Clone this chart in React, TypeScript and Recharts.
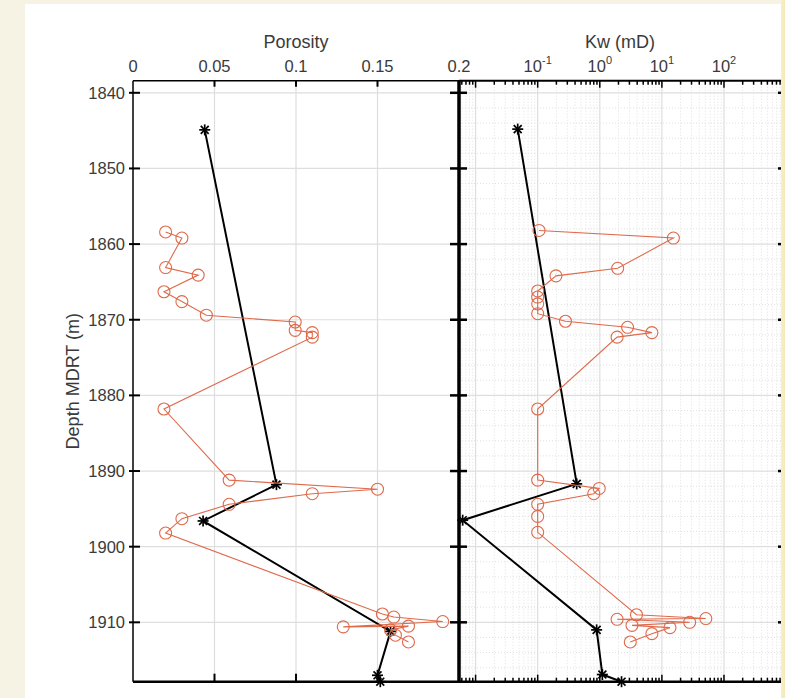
import React from 'react';
import { ScatterChart, Scatter, XAxis, YAxis, ReferenceLine } from 'recharts';

// ---------------- data ----------------
const porosityDepth = [1858.4, 1859.2, 1863.1, 1864.1, 1866.3, 1867.6, 1869.4, 1870.3, 1871.4, 1871.7, 1872.3, 1881.8, 1891.2, 1892.4, 1893.0, 1894.4, 1896.3, 1898.2, 1908.9, 1909.3, 1909.9, 1910.6, 1910.5, 1911.0, 1911.7, 1912.6];
const porosityValues = [0.020, 0.030, 0.020, 0.040, 0.019, 0.030, 0.045, 0.0995, 0.0995, 0.110, 0.110, 0.019, 0.059, 0.150, 0.110, 0.059, 0.030, 0.020, 0.153, 0.160, 0.190, 0.129, 0.169, 0.158, 0.161, 0.169];
const porosityModelDepth = [1844.9, 1891.8, 1896.6, 1911.2, 1917.0, 1917.85];
const porosityModelValues = [0.044, 0.088, 0.043, 0.158, 0.150, 0.1517];

const kwDepth = [1858.2, 1859.2, 1863.2, 1864.2, 1866.2, 1867.0, 1867.9, 1869.2, 1870.2, 1871.0, 1871.7, 1872.3, 1881.8, 1891.2, 1892.3, 1893.0, 1894.4, 1896.0, 1898.1, 1909.0, 1909.5, 1909.6, 1910.0, 1910.4, 1910.7, 1911.5, 1912.6];
const kwValues = [0.105, 15.3, 1.94, 0.197, 0.1, 0.1, 0.1, 0.1, 0.28, 2.8, 6.9, 1.9, 0.1, 0.1, 0.98, 0.8, 0.1, 0.1, 0.1, 3.9, 51, 1.9, 28, 3.3, 13.5, 6.9, 3.1];
const kwModelDepth = [1844.8, 1891.7, 1896.5, 1911.0, 1916.9, 1917.85];
const kwModelValues = [0.0477, 0.425, 0.0062, 0.89, 1.1, 2.24];

const porosityTicks = [0, 0.05, 0.1, 0.15, 0.2];
const depthTicks = [1840, 1850, 1860, 1870, 1880, 1890, 1900, 1910];
const kwDecades = [-3, -2, -1, 0, 1, 2];
const kwLabelledDecades = [-1, 0, 1, 2];
const kwMultipliers = [1, 2, 3, 4, 5, 6, 7, 8, 9];
const depthMinorStep = 2;

// ---------------- layout ----------------
const W = 785;
const H = 698;
const TOP = 80.7;
const BOTTOM = 681.7;
const L1 = 133;
const R1 = 459;
const R2 = 781;
const XH = 30;
const DEPTH_DOMAIN: [number, number] = [1838.4, 1917.85];
const POR_DOMAIN: [number, number] = [0, 0.2];
const KW_DOMAIN: [number, number] = [-2.267, 2.918];

const ORANGE = '#de6a4b';
const FONT = '"Liberation Sans", Arial, Helvetica, sans-serif';
const TEXT = '#3a3a3a';
const GRID = '#dedede';
const MINOR = '#e0e0e0';
const TICK_FS = 16.5;

// ---------------- derived tables ----------------
const porosityData = porosityDepth.map((d, i) => ({ x: porosityValues[i], y: d }));
const porosityModelData = porosityModelDepth.map((d, i) => ({ x: porosityModelValues[i], y: d }));
const kwData = kwDepth.map((d, i) => ({ x: Math.log10(kwValues[i]), y: d }));
const kwModelData = kwModelDepth.map((d, i) => ({ x: Math.log10(kwModelValues[i]), y: d }));

const kwTicks = kwDecades
  .flatMap((n) => kwMultipliers.map((k) => n + Math.log10(k)))
  .filter((v) => v >= KW_DOMAIN[0] && v <= KW_DOMAIN[1]);
const isMajor = (v: number) => Math.abs(v - Math.round(v)) < 1e-9;
const kwMajor = kwTicks.filter(isMajor);
const kwMinor = kwTicks.filter((v) => !isMajor(v));

const depthMinor: number[] = [];
for (let d = depthTicks[0] - 10; d <= DEPTH_DOMAIN[1]; d += depthMinorStep) {
  if (d >= DEPTH_DOMAIN[0] && d % 10 !== 0) depthMinor.push(d);
}

// ---------------- shapes ----------------
const Circle = (p: any) => (
  <circle cx={p.cx} cy={p.cy} r={6} fill="none" stroke={ORANGE} strokeWidth={1.1} />
);

const Star = (p: any) => {
  const r = 5.5;
  const d = r * 0.72;
  const { cx, cy } = p;
  return (
    <g stroke="#000" strokeWidth={1.7}>
      <line x1={cx - r} y1={cy} x2={cx + r} y2={cy} />
      <line x1={cx} y1={cy - r} x2={cx} y2={cy + r} />
      <line x1={cx - d} y1={cy - d} x2={cx + d} y2={cy + d} />
      <line x1={cx - d} y1={cy + d} x2={cx + d} y2={cy - d} />
    </g>
  );
};

// ---------------- ticks ----------------
const PorTick = (p: any) => {
  const { x, payload } = p;
  const v = payload.value;
  const inner = v > POR_DOMAIN[0] + 1e-9 && v < POR_DOMAIN[1] - 1e-9;
  return (
    <g>
      {inner && <line x1={x} x2={x} y1={TOP} y2={TOP + 6} stroke="#000" strokeWidth={2} />}
      {inner && <line x1={x} x2={x} y1={BOTTOM - 8} y2={BOTTOM} stroke="#000" strokeWidth={2} />}
      <text x={x} y={TOP - 9} textAnchor="middle" fontSize={TICK_FS} fontFamily={FONT} fill={TEXT}>
        {String(v)}
      </text>
    </g>
  );
};

const DepthTickLeft = (p: any) => {
  const { x, y, payload } = p;
  return (
    <g>
      <line x1={x - 4} x2={x + 7} y1={y} y2={y} stroke="#000" strokeWidth={2} />
      <line x1={R1 - 9} x2={R1} y1={y} y2={y} stroke="#000" strokeWidth={2.5} />
      <text x={x - 8} y={y + 6} textAnchor="end" fontSize={TICK_FS} fontFamily={FONT} fill={TEXT}>
        {String(payload.value)}
      </text>
    </g>
  );
};

const DepthTickRight = (p: any) => {
  const { y } = p;
  return (
    <g>
      <line x1={R1} x2={R1 + 8} y1={y} y2={y} stroke="#000" strokeWidth={2.5} />
      <line x1={R2 - 3} x2={R2} y1={y} y2={y} stroke="#000" strokeWidth={2.5} />
    </g>
  );
};

const KwTick = (p: any) => {
  const { x, payload } = p;
  const v = payload.value;
  const major = isMajor(v);
  const len = major ? 7 : 4;
  const n = Math.round(v);
  const labelled = major && kwLabelledDecades.includes(n);
  return (
    <g>
      <line x1={x} x2={x} y1={TOP} y2={TOP + len} stroke="#000" strokeWidth={1.5} />
      <line x1={x} x2={x} y1={BOTTOM - len} y2={BOTTOM} stroke="#000" strokeWidth={1.5} />
      {labelled && (
        <text x={x} y={TOP - 9} textAnchor="middle" fontSize={TICK_FS} fontFamily={FONT} fill={TEXT}>
          <tspan>10</tspan>
          <tspan dy={-8} fontSize={11}>{String(n)}</tspan>
        </text>
      )}
    </g>
  );
};

const PorosityTitle = () => (
  <text x={(L1 + R1) / 2} y={48} textAnchor="middle" fontSize={18} fontFamily={FONT} fill={TEXT}>
    Porosity
  </text>
);

const KwTitle = () => (
  <text x={(R1 + R2) / 2} y={48} textAnchor="middle" fontSize={18} fontFamily={FONT} fill={TEXT}>
    Kw (mD)
  </text>
);

const DepthTitle = () => (
  <text
    x={79}
    y={(TOP + BOTTOM) / 2}
    transform={`rotate(-90 79 ${(TOP + BOTTOM) / 2})`}
    textAnchor="middle"
    fontSize={18}
    fontFamily={FONT}
    fill={TEXT}
  >
    Depth MDRT (m)
  </text>
);

const layer: React.CSSProperties = { position: 'absolute', left: 0, top: 0, width: W, height: H };

export default function App() {
  return (
    <div style={{ position: 'absolute', left: 0, top: 0, width: W, height: H, background: '#f6f3e4', overflow: 'hidden' }}>
      <div style={{ position: 'absolute', left: 25, top: 4, width: R2 - 25, height: H - 4, background: '#ffffff' }} />
      <div style={{ position: 'absolute', left: R2, top: 0, width: W - R2, height: H, background: 'linear-gradient(90deg,#f7efc6,#f4e9b8)' }} />

      <div style={layer}>
        <ScatterChart width={W} height={H} margin={{ top: TOP - XH, right: W - R1, bottom: H - BOTTOM, left: L1 - 60 }}>
          <XAxis
            type="number"
            dataKey="x"
            orientation="top"
            domain={POR_DOMAIN}
            ticks={porosityTicks}
            interval={0}
            height={XH}
            tickSize={0}
            tickMargin={0}
            tickLine={false}
            axisLine={{ stroke: '#000', strokeWidth: 1.5 }}
            tick={PorTick}
            label={PorosityTitle}
          />
          <YAxis
            type="number"
            dataKey="y"
            reversed
            domain={DEPTH_DOMAIN}
            ticks={depthTicks}
            interval={0}
            width={60}
            tickSize={0}
            tickMargin={0}
            tickLine={false}
            axisLine={{ stroke: '#000', strokeWidth: 1.5 }}
            tick={DepthTickLeft}
            label={DepthTitle}
          />
          {porosityTicks
            .filter((v) => v > POR_DOMAIN[0] && v < POR_DOMAIN[1])
            .map((v) => (
              <ReferenceLine key={'pv' + v} x={v} stroke={GRID} strokeWidth={1.2} />
            ))}
          {depthTicks.map((d) => (
            <ReferenceLine key={'ph' + d} y={d} stroke={GRID} strokeWidth={1.2} />
          ))}
          <ReferenceLine y={DEPTH_DOMAIN[1]} stroke="#000" strokeWidth={2.5} />
          <ReferenceLine x={POR_DOMAIN[1]} stroke="#000" strokeWidth={3} />
          <Scatter
            data={porosityModelData}
            line={{ stroke: '#000', strokeWidth: 2 }}
            shape={Star}
            isAnimationActive={false}
          />
          <Scatter
            data={porosityData}
            line={{ stroke: ORANGE, strokeWidth: 1.1 }}
            shape={Circle}
            isAnimationActive={false}
          />
        </ScatterChart>
      </div>

      <div style={layer}>
        <ScatterChart width={W} height={H} margin={{ top: TOP - XH, right: W - R2, bottom: H - BOTTOM, left: R1 - 10 }}>
          <XAxis
            type="number"
            dataKey="x"
            orientation="top"
            domain={KW_DOMAIN}
            ticks={kwTicks}
            interval={0}
            height={XH}
            tickSize={0}
            tickMargin={0}
            tickLine={false}
            axisLine={{ stroke: '#000', strokeWidth: 2 }}
            tick={KwTick}
            label={KwTitle}
          />
          <YAxis
            type="number"
            dataKey="y"
            reversed
            domain={DEPTH_DOMAIN}
            ticks={depthTicks}
            interval={0}
            width={10}
            tickSize={0}
            tickMargin={0}
            tickLine={false}
            axisLine={{ stroke: '#000', strokeWidth: 3 }}
            tick={DepthTickRight}
          />
          {kwMinor.map((v) => (
            <ReferenceLine key={'kmv' + v} x={v} stroke={MINOR} strokeWidth={1} strokeDasharray="1 2" />
          ))}
          {depthMinor.map((d) => (
            <ReferenceLine key={'kmh' + d} y={d} stroke={MINOR} strokeWidth={1} strokeDasharray="1 2" />
          ))}
          {kwMajor.map((v) => (
            <ReferenceLine key={'kv' + v} x={v} stroke={GRID} strokeWidth={1.2} />
          ))}
          {depthTicks.map((d) => (
            <ReferenceLine key={'kh' + d} y={d} stroke={GRID} strokeWidth={1.2} />
          ))}
          <ReferenceLine y={DEPTH_DOMAIN[1]} stroke="#000" strokeWidth={2.5} />
          <Scatter
            data={kwModelData}
            line={{ stroke: '#000', strokeWidth: 2 }}
            shape={Star}
            isAnimationActive={false}
          />
          <Scatter
            data={kwData}
            line={{ stroke: ORANGE, strokeWidth: 1.1 }}
            shape={Circle}
            isAnimationActive={false}
          />
        </ScatterChart>
      </div>
    </div>
  );
}
